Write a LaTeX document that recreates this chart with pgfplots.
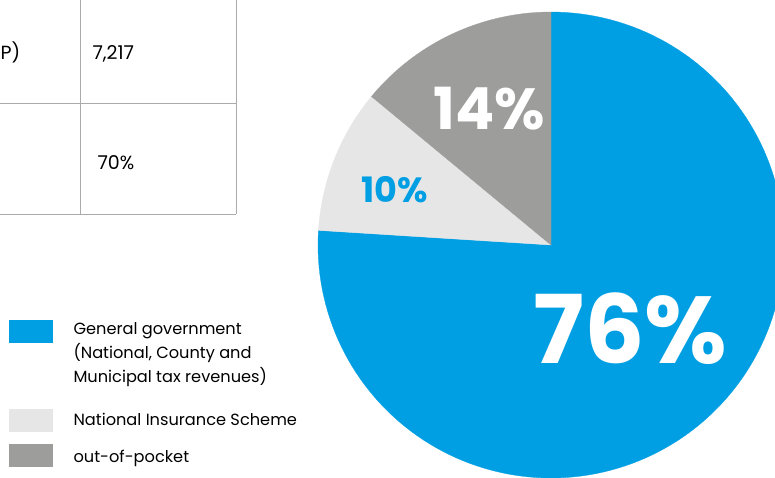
\documentclass[border=0pt]{standalone}
\usepackage{pgfplots}
\usepackage{pgfplotstable}
\pgfplotsset{compat=1.18}
\usepackage{fontspec}
\setmainfont{Poppins}
\definecolor{cblue}{HTML}{009FE3}
\definecolor{clight}{HTML}{E6E6E6}
\definecolor{cgray}{HTML}{9D9D9C}
\definecolor{cline}{HTML}{ABABAB}
\definecolor{ctext}{HTML}{1D1D1B}

\pgfplotstableread{
source share
gov 76
nis 10
oop 14
}\sharetable
\pgfplotstablegetelem{0}{share}\of\sharetable \edef\sA{\pgfplotsretval}
\pgfplotstablegetelem{1}{share}\of\sharetable \edef\sB{\pgfplotsretval}
\pgfplotstablegetelem{2}{share}\of\sharetable \edef\sC{\pgfplotsretval}
\pgfmathsetmacro\aA{90-3.6*\sA}
\pgfmathsetmacro\aB{\aA-3.6*\sB}
\pgfmathsetmacro\aC{\aB-3.6*\sC}

\begin{document}
\begin{tikzpicture}
\begin{axis}[
  x=1pt, y=1pt, y dir=reverse,
  xmin=0, xmax=775, ymin=0, ymax=477,
  hide axis, clip=true,
  every node/.style={inner sep=0pt, text=ctext},
]
% pie sectors
\addplot[fill=cblue, draw=cblue, line width=0.3pt, domain=\aA:90, samples=150, variable=\t]
  ({551+233*cos(\t)},{245-233*sin(\t)}) -- (axis cs:551,245) -- cycle;
\addplot[fill=clight, draw=clight, line width=0.3pt, domain=\aB:\aA, samples=40, variable=\t]
  ({551+233*cos(\t)},{245-233*sin(\t)}) -- (axis cs:551,245) -- cycle;
\addplot[fill=cgray, draw=cgray, line width=0.3pt, domain=\aC:\aB, samples=60, variable=\t]
  ({551+233*cos(\t)},{245-233*sin(\t)}) -- (axis cs:551,245) -- cycle;

% pie labels
\node[anchor=base west, text=white] at (axis cs:430,129) {\fontsize{58}{58}\selectfont\bfseries \sC\%};
\node[anchor=base west, text=cblue] at (axis cs:358,202) {\fontsize{35}{35}\selectfont\bfseries \sB\%};
\node[anchor=base west, text=white] at (axis cs:530,363) {\fontsize{95}{95}\selectfont\bfseries \sA\%};

% table fragment
\draw[cline, line width=1pt] (axis cs:80,0) -- (axis cs:80,214);
\draw[cline, line width=1pt] (axis cs:236,0) -- (axis cs:236,214);
\draw[cline, line width=1pt] (axis cs:0,103) -- (axis cs:236,103);
\draw[cline, line width=1pt] (axis cs:0,214) -- (axis cs:236,214);
\node[anchor=base west] at (axis cs:-3,59) {\fontsize{19}{22}\selectfont P)};
\node[anchor=base west] at (axis cs:89,59) {\fontsize{19}{22}\selectfont 7,217};
\node[anchor=base west] at (axis cs:94,169) {\fontsize{19}{22}\selectfont 70\%};

% legend
\fill[cblue] (axis cs:9,320) rectangle (axis cs:53,343);
\fill[clight] (axis cs:9,409) rectangle (axis cs:53,432);
\fill[cgray] (axis cs:9,444) rectangle (axis cs:53,467);
\node[anchor=base west] at (axis cs:70,334) {\fontsize{16.2}{20}\selectfont General government};
\node[anchor=base west] at (axis cs:70,358) {\fontsize{16.2}{20}\selectfont (National, County and};
\node[anchor=base west] at (axis cs:70,382) {\fontsize{16.2}{20}\selectfont Municipal tax revenues)};
\node[anchor=base west] at (axis cs:70,425) {\fontsize{16.2}{20}\selectfont National Insurance Scheme};
\node[anchor=base west] at (axis cs:70,462) {\fontsize{16.2}{20}\selectfont out-of-pocket};
\end{axis}
\pgfresetboundingbox
\path (current axis.south west) rectangle (current axis.north east);
\end{tikzpicture}
\end{document}
